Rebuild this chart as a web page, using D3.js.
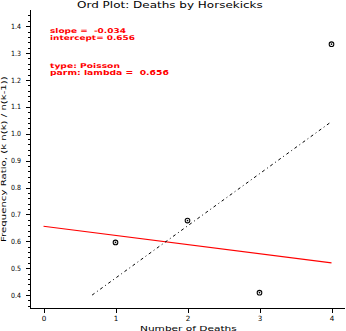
<!DOCTYPE html>
<html>
<head>
<meta charset="utf-8">
<script src="https://cdn.jsdelivr.net/npm/d3@7"></script>
<style>
  body { margin: 0; background: #fff; }
  svg { display: block; }
  text { font-family: "DejaVu Sans", sans-serif; white-space: pre; }
</style>
</head>
<body>
<svg id="chart" width="346" height="331"></svg>
<script>
// Ord plot of horsekick deaths: k vs k*n(k)/n(k-1)
const deaths = [1, 2, 3, 4];
const ratios = [0.596, 0.677, 0.409, 1.333];

// Weighted fit (red) and unweighted least-squares line (dash-dot)
const weightedFit = [[0, 0.656], [4, 0.520]];
const olsFit = [[0.675, 0.400], [4, 1.045]];

const xTicks = [0, 1, 2, 3, 4];
const yTicks = [0.4, 0.5, 0.6, 0.7, 0.8, 0.9, 1.0, 1.1, 1.2, 1.3, 1.4];

const titleText = "Ord Plot: Deaths by Horsekicks";
const xLabel = "Number of Deaths";
const yLabel = "Frequency Ratio, (k n(k) / n(k-1))";
const notes = ["slope =  -0.034", "intercept= 0.656", "type: Poisson", "parm: lambda =  0.656"];

const svg = d3.select("#chart");
const plotL = 30, plotR = 345, plotT = 10, plotB = 308;

const x = d3.scaleLinear().domain([-0.1875, 4.1875]).range([plotL, plotR]);
const y = d3.scaleLinear().domain([0.352, 1.46]).range([plotB, plotT]);

// Place a text so it spans a set width, stretching it horizontally (wide lettering)
function wideText(parent, str, px, py, w, size, opts = {}) {
  const g = parent.append("g");
  const t = g.append("text").attr("font-size", size)
    .attr("font-weight", opts.bold ? "bold" : null)
    .attr("fill", opts.fill || "#000")
    .text(str);
  const natural = t.node().getComputedTextLength();
  const rot = opts.rot ? ` rotate(${opts.rot})` : "";
  g.attr("transform", `translate(${px},${py})${rot} scale(${w / natural},1)`);
  return t;
}

// Axis lines
svg.append("line").attr("x1", plotL + 0.5).attr("x2", plotL + 0.5).attr("y1", plotT).attr("y2", plotB)
  .attr("stroke", "#000").attr("stroke-width", 1);
svg.append("line").attr("x1", plotL).attr("x2", plotR).attr("y1", plotB + 0.5).attr("y2", plotB + 0.5)
  .attr("stroke", "#000").attr("stroke-width", 1);

// Y ticks: majors with labels, minors every 0.02
const minor = d3.range(0.36, 1.46, 0.02);
svg.append("g").selectAll("line").data(minor).join("line")
  .attr("x1", plotL - 2).attr("x2", plotL)
  .attr("y1", d => Math.round(y(d)) + 0.5).attr("y2", d => Math.round(y(d)) + 0.5)
  .attr("stroke", "#000");
svg.append("g").selectAll("line").data(yTicks).join("line")
  .attr("x1", plotL - 4).attr("x2", plotL)
  .attr("y1", d => Math.round(y(d)) + 0.5).attr("y2", d => Math.round(y(d)) + 0.5)
  .attr("stroke", "#000");
yTicks.forEach(v => wideText(svg, d3.format(".1f")(v), 11, y(v) + 2.6, 10, 7.2));

// X ticks
svg.append("g").selectAll("line").data(xTicks).join("line")
  .attr("x1", d => Math.round(x(d)) + 0.5).attr("x2", d => Math.round(x(d)) + 0.5)
  .attr("y1", plotB).attr("y2", plotB + 5)
  .attr("stroke", "#000");
svg.append("g").selectAll("text").data(xTicks).join("text")
  .attr("x", d => x(d) + 0.5).attr("y", 321)
  .attr("text-anchor", "middle")
  .attr("font-size", 7.2)
  .text(d => d);

// Lines
const line = d3.line().x(d => x(d[0])).y(d => y(d[1]));
svg.append("path").datum(weightedFit).attr("d", line)
  .attr("fill", "none").attr("stroke", "#ff0000").attr("stroke-width", 1.2);
svg.append("path").datum(olsFit).attr("d", line)
  .attr("fill", "none").attr("stroke", "#000").attr("stroke-width", 1)
  .attr("stroke-dasharray", "3,3,1,3");

// Points
const pts = svg.append("g").selectAll("g").data(deaths.map((d, i) => [d, ratios[i]])).join("g")
  .attr("transform", d => `translate(${x(d[0])},${y(d[1])})`);
pts.append("circle").attr("r", 2.3).attr("fill", "none").attr("stroke", "#000").attr("stroke-width", 1.1);
pts.append("circle").attr("r", 0.8).attr("fill", "#000");

// Title and axis labels
wideText(svg, titleText, 77, 7.5, 186, 9.5);
wideText(svg, xLabel, 140, 330.5, 97, 7.5);
wideText(svg, yLabel, 6, 242, 166, 7.5, { rot: -90 });

// Fit annotation, one text per line
const noteY = [33, 39.8, 68, 75.3];
const noteW = [76, 85, 70, 119];
notes.forEach((s, i) => {
  wideText(svg, s, 50, noteY[i], noteW[i], 6.6, { bold: true, fill: "#ff0000" });
});
</script>
</body>
</html>
